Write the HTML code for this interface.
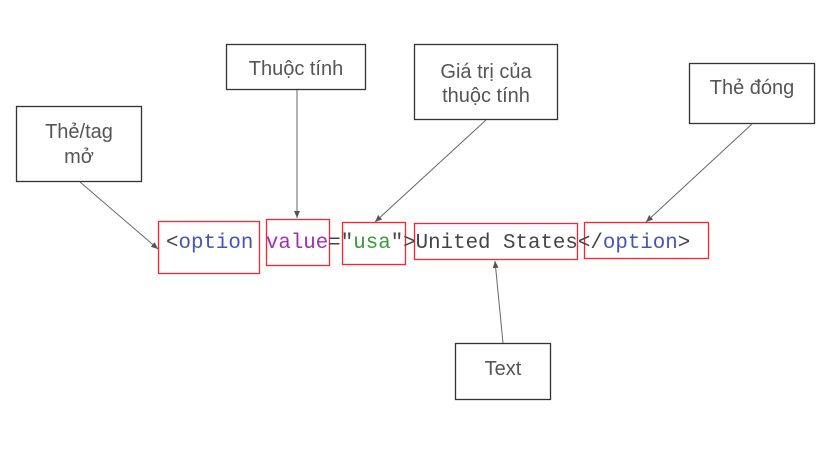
<!DOCTYPE html>
<html><head><meta charset="utf-8"><style>
html,body{margin:0;padding:0;background:#fff;width:819px;height:453px;overflow:hidden}
svg text.l{font-family:"Liberation Sans","DejaVu Sans",sans-serif;font-size:20px;fill:#555;text-anchor:middle}
svg text.c{font-family:"Liberation Mono",monospace;font-size:20.8px}
</style></head><body>
<svg width="819" height="453" viewBox="0 0 819 453" xmlns="http://www.w3.org/2000/svg">
<defs><marker id="a" markerWidth="8" markerHeight="8" refX="7" refY="4" orient="auto" markerUnits="userSpaceOnUse"><path d="M0,1 L7,4 L0,7 z" fill="#555"/></marker></defs>
<g fill="none" stroke="#333" stroke-width="1.3">
<rect x="16.5" y="106.5" width="125" height="75"/>
<rect x="226.5" y="44.5" width="139" height="45"/>
<rect x="414.5" y="44.5" width="143" height="75"/>
<rect x="689.5" y="63.5" width="125" height="60"/>
<rect x="455.5" y="343.5" width="95" height="56"/>
</g>
<g stroke="#666" stroke-width="1" marker-end="url(#a)">
<line x1="80" y1="182" x2="158" y2="249"/>
<line x1="297" y1="90" x2="297" y2="218"/>
<line x1="486" y1="120" x2="375" y2="222"/>
<line x1="752" y1="124" x2="646" y2="222"/>
<line x1="503" y1="343" x2="495" y2="261"/>
</g>
<g fill="none" stroke="#f23" stroke-width="1.3">
<rect x="158.5" y="221.5" width="101" height="52"/>
<rect x="266.5" y="219.5" width="63" height="46"/>
<rect x="342.5" y="222.5" width="63" height="42"/>
<rect x="414.5" y="223.5" width="163" height="36"/>
<rect x="584.5" y="222.5" width="124" height="36"/>
</g>
<text class="l" x="79" y="138">Thẻ/tag</text>
<text class="l" x="79" y="163">mở</text>
<text class="l" x="296" y="75">Thuộc tính</text>
<text class="l" x="486" y="78">Giá trị của</text>
<text class="l" x="486" y="102">thuộc tính</text>
<text class="l" x="752" y="94">Thẻ đóng</text>
<text class="l" x="503" y="375">Text</text>
<text class="c" x="166" y="248" xml:space="preserve"><tspan fill="#444">&lt;</tspan><tspan fill="#4455bb">option</tspan> <tspan fill="#a030b0">value</tspan><tspan fill="#444">="</tspan><tspan fill="#3a9a3a">usa</tspan><tspan fill="#444">"&gt;United States&lt;/</tspan><tspan fill="#4455bb">option</tspan><tspan fill="#444">&gt;</tspan></text>
</svg>
</body></html>
